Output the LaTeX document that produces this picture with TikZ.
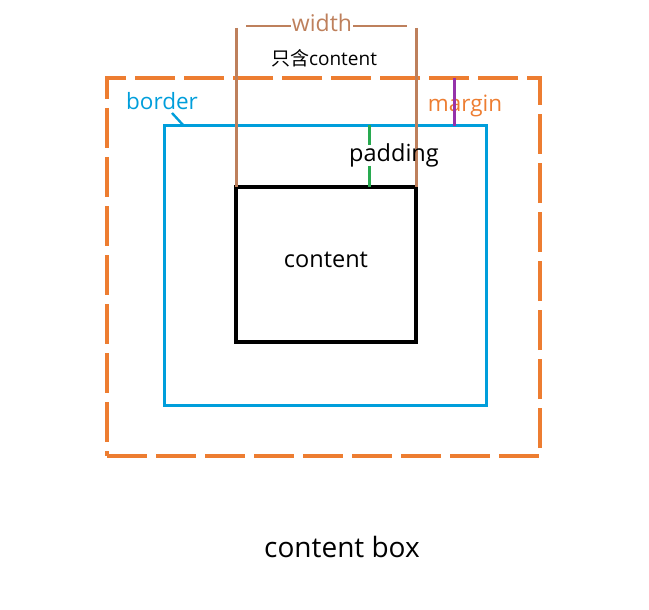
\documentclass[tikz,border=0pt]{standalone}
\usepackage{fontspec}
\setmainfont{Open Sans}
\newfontfamily\cjk{Noto Sans CJK SC}
\definecolor{morange}{RGB}{237,125,49}
\definecolor{mblue}{RGB}{0,158,219}
\definecolor{mbrown}{RGB}{190,128,92}
\definecolor{mgreen}{RGB}{40,170,80}
\definecolor{mpurple}{RGB}{150,50,170}
\tikzset{
  box/.style={draw, inner sep=0pt, outer sep=0pt},
  lbl/.style={inner sep=0pt, anchor=center},
}
\begin{document}
\begin{tikzpicture}[x=1pt,y=-1pt]
\useasboundingbox (0,0) rectangle (649,610);
% margin box
\node[box, morange, line width=3.2pt, dash pattern=on 40pt off 9pt, minimum width=433pt, minimum height=378pt] (margin) at (323.5,267) {};
% border box
\node[box, mblue, line width=3pt, minimum width=322pt, minimum height=279pt] (border) at (325,265.5) {};
% content box
\node[box, black, line width=3.6pt, minimum width=180pt, minimum height=155pt] (content) at (326,264.5) {};
\node[lbl, font=\fontsize{23.5}{28}\selectfont] (ctext) at (326,260) {content};
% width lines
\coordinate (wl) at (236,28);
\coordinate (wr) at (416,28);
\draw[mbrown, line width=3pt] (wl) -- (content.north west);
\draw[mbrown, line width=3pt] (wr) -- (content.north east);
\node[lbl, mbrown, font=\fontsize{23}{27}\selectfont] (wtext) at (322,23) {width};
\coordinate (hl) at (246,26);
\coordinate (hr) at (407,26);
\draw[mbrown, line width=2.4pt] (hl) -- ([xshift=-1pt]wtext.west |- hl);
\draw[mbrown, line width=2.4pt] ([xshift=1pt]wtext.east |- hr) -- (hr);
\node[lbl, font=\fontsize{19}{23}\selectfont] (only) at (324,58) {{\cjk 只含}content};
% border label
\node[lbl, mblue, font=\fontsize{22.5}{27}\selectfont] (btext) at (162,101) {border};
\coordinate (bt) at (172,113);
\draw[mblue, line width=2.4pt] (bt) -- (184,126);
% margin label
\node[lbl, morange, font=\fontsize{22.5}{27}\selectfont] (mtext) at (465,106) {margin};
\coordinate (mt) at (454,78);
\coordinate (mb) at (454,126);
\draw[mpurple, line width=3pt] (mt) -- (mb);
% padding label
\node[lbl, font=\fontsize{23.5}{28}\selectfont] (ptext) at (394,155) {padding};
\coordinate (pt) at (369,125);
\coordinate (pb) at (369,187);
\draw[mgreen, line width=3pt] (pt) -- (369,145);
\draw[mgreen, line width=3pt] (369,166) -- (pb);
% caption
\node[lbl, font=\fontsize{28}{32}\selectfont] (cap) at (342,547) {content box};
\end{tikzpicture}
\end{document}
